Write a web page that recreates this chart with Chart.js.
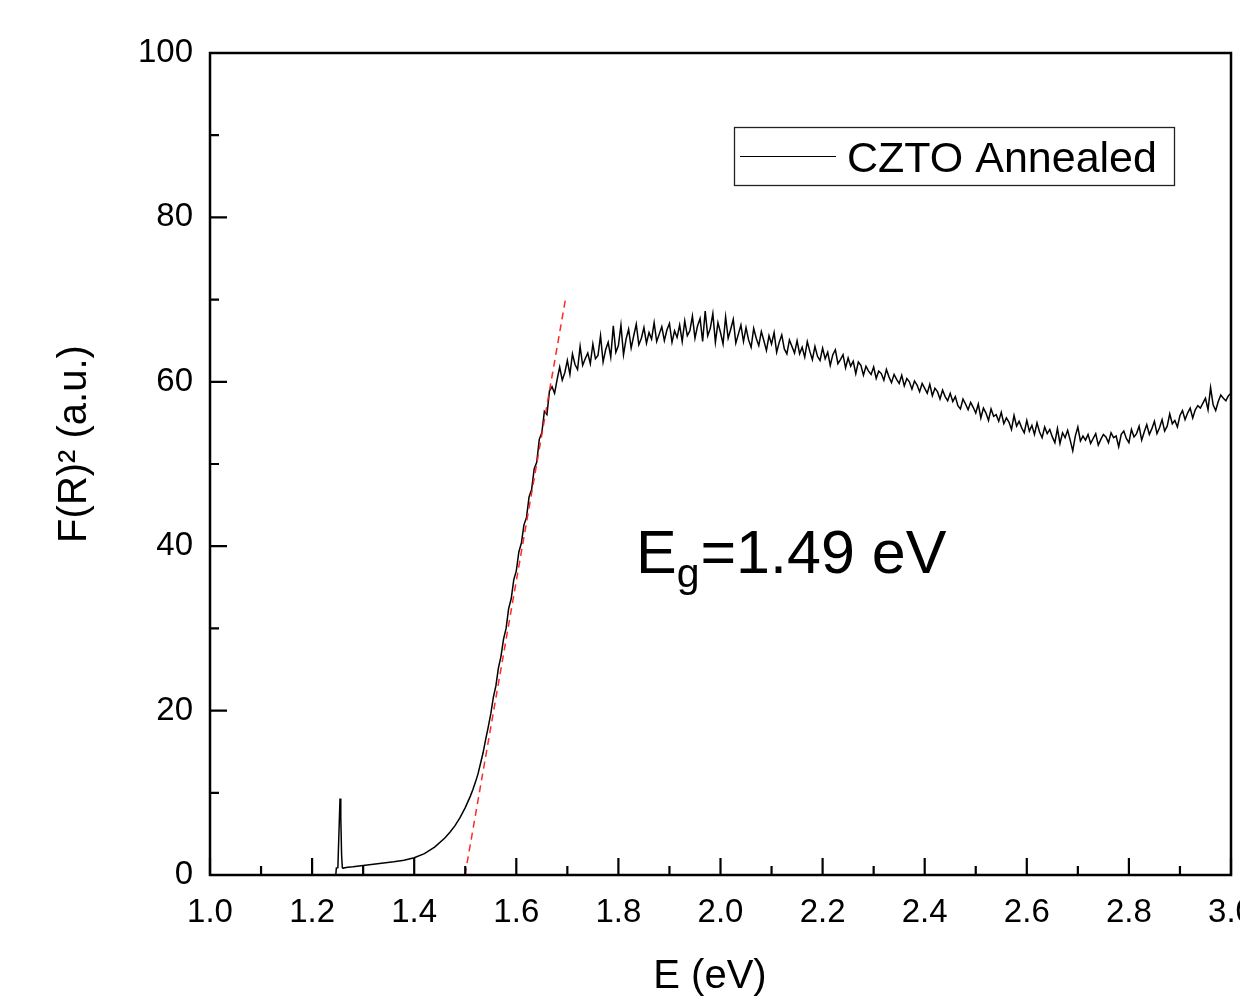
<!DOCTYPE html>
<html>
<head>
<meta charset="utf-8">
<script src="https://cdn.jsdelivr.net/npm/chart.js@4.4.1/dist/chart.umd.min.js"></script>
<style>
  html, body { margin: 0; padding: 0; background: #fff; overflow: hidden; }
  #wrap { width: 1300px; height: 1000px; }
</style>
</head>
<body>
<div id="wrap"><canvas id="chart" width="1300" height="1000"></canvas></div>
<script>
// F(R)^2 vs photon energy
const energy = [
  1.2465, 1.2475, 1.2505, 1.2525, 1.2547, 1.2562, 1.2578, 1.2592, 1.2605, 1.27,
  1.28, 1.30, 1.32, 1.34, 1.36, 1.38, 1.40, 1.42, 1.44, 1.46, 1.47, 1.48, 1.49,
  1.500, 1.505, 1.510, 1.515, 1.520, 1.525, 1.530, 1.535, 1.540, 1.545,
  1.550, 1.555, 1.560, 1.565, 1.570, 1.575, 1.580, 1.585, 1.590, 1.595,
  1.600, 1.605, 1.610, 1.615, 1.620, 1.625, 1.630, 1.635, 1.640, 1.645,
  1.650, 1.655, 1.660, 1.665, 1.670, 1.675, 1.680, 1.685, 1.690, 1.695,
  1.700, 1.705, 1.710, 1.715, 1.720, 1.725, 1.730, 1.735, 1.740, 1.745,
  1.750, 1.755, 1.760, 1.765, 1.770, 1.775, 1.780, 1.785, 1.790, 1.795,
  1.800, 1.805, 1.810, 1.815, 1.820, 1.825, 1.830, 1.835, 1.840, 1.845,
  1.850, 1.855, 1.860, 1.865, 1.870, 1.875, 1.880, 1.885, 1.890, 1.895,
  1.900, 1.905, 1.910, 1.915, 1.920, 1.925, 1.930, 1.935, 1.940, 1.945,
  1.950, 1.955, 1.960, 1.965, 1.970, 1.975, 1.980, 1.985, 1.990, 1.995,
  2.000, 2.005, 2.010, 2.015, 2.020, 2.025, 2.030, 2.035, 2.040, 2.045,
  2.050, 2.055, 2.060, 2.065, 2.070, 2.075, 2.080, 2.085, 2.090, 2.095,
  2.100, 2.105, 2.110, 2.115, 2.120, 2.125, 2.130, 2.135, 2.140, 2.145,
  2.150, 2.155, 2.160, 2.165, 2.170, 2.175, 2.180, 2.185, 2.190, 2.195,
  2.200, 2.205, 2.210, 2.215, 2.220, 2.225, 2.230, 2.235, 2.240, 2.245,
  2.250, 2.255, 2.260, 2.265, 2.270, 2.275, 2.280, 2.285, 2.290, 2.295,
  2.300, 2.305, 2.310, 2.315, 2.320, 2.325, 2.330, 2.335, 2.340, 2.345,
  2.350, 2.355, 2.360, 2.365, 2.370, 2.375, 2.380, 2.385, 2.390, 2.395,
  2.400, 2.405, 2.410, 2.415, 2.420, 2.425, 2.430, 2.435, 2.440, 2.445,
  2.450, 2.455, 2.460, 2.465, 2.470, 2.475, 2.480, 2.485, 2.490, 2.495,
  2.500, 2.505, 2.510, 2.515, 2.520, 2.525, 2.530, 2.535, 2.540, 2.545,
  2.550, 2.555, 2.560, 2.565, 2.570, 2.575, 2.580, 2.585, 2.590, 2.595,
  2.600, 2.605, 2.610, 2.615, 2.620, 2.625, 2.630, 2.635, 2.640, 2.645,
  2.650, 2.655, 2.660, 2.665, 2.670, 2.675, 2.680, 2.685, 2.690, 2.695,
  2.700, 2.705, 2.710, 2.715, 2.720, 2.725, 2.730, 2.735, 2.740, 2.745,
  2.750, 2.755, 2.760, 2.765, 2.770, 2.775, 2.780, 2.785, 2.790, 2.795,
  2.800, 2.805, 2.810, 2.815, 2.820, 2.825, 2.830, 2.835, 2.840, 2.845,
  2.850, 2.855, 2.860, 2.865, 2.870, 2.875, 2.880, 2.885, 2.890, 2.895,
  2.900, 2.905, 2.910, 2.915, 2.920, 2.925, 2.930, 2.935, 2.940, 2.945,
  2.950, 2.955, 2.960, 2.965, 2.970, 2.975, 2.980, 2.985, 2.990, 2.995,
  3.000, 3.010
];
const fr2 = [
  0.05, 0.85, 0.9, 5.0, 9.3, 7.0, 2.4, 0.9, 0.85, 0.95,
  1.0, 1.15, 1.3, 1.45, 1.6, 1.8, 2.1, 2.6, 3.4, 4.5, 5.2, 6.0, 7.0,
  8.2, 8.9, 9.6, 10.4, 11.3, 12.3, 13.6, 14.9, 16.5, 18.0,
  19.6, 21.6, 23.0, 25.2, 26.6, 28.7, 30.0, 32.4, 33.6, 35.9,
  37.0, 39.3, 40.4, 42.6, 43.5, 46.0, 46.9, 49.4, 50.2, 53.0,
  53.8, 56.4, 56.0, 58.9, 59.4, 58.6, 60.3, 61.8, 60.2, 61.1,
  62.6, 60.9, 63.4, 62.1, 61.5, 64.3, 62.0, 62.8, 63.5, 62.2,
  64.6, 62.8, 63.2, 65.6, 62.4, 63.9, 64.8, 63.0, 66.8, 63.6,
  64.4, 66.9, 63.3, 65.2, 66.4, 64.1, 65.6, 67.0, 64.5, 65.3,
  66.6, 64.7, 66.0, 65.2, 67.2, 64.9, 65.8, 66.7, 65.0, 66.3,
  67.1, 64.8, 66.2, 65.4, 66.9, 64.9, 67.4, 65.6, 66.2, 68.0,
  65.3, 66.8, 67.7, 64.9, 68.6, 65.6, 66.5, 68.3, 64.8, 67.2,
  66.0, 64.6, 67.9, 65.3, 66.4, 67.6, 64.7, 65.8, 66.9, 64.9,
  66.6, 65.1, 64.2, 66.5, 65.3, 64.4, 66.1, 65.0, 63.8, 65.6,
  64.6, 66.0, 63.6, 64.8, 65.7, 64.0, 63.4, 65.1, 64.3, 63.5,
  65.0, 63.4, 64.2, 63.0, 64.9, 63.7, 62.7, 64.3, 63.1, 62.6,
  64.1, 62.8, 63.6, 62.0, 63.3, 63.9, 62.2, 62.7, 63.3, 61.7,
  62.9, 61.9, 62.5, 61.0, 62.4, 62.0, 60.8, 61.9, 61.3, 60.9,
  61.8, 60.4, 61.3, 61.0, 60.2, 61.5, 60.6, 59.9, 60.9, 60.3,
  59.8, 60.8, 59.5, 60.4, 60.0, 59.1, 60.1, 59.6, 58.8, 59.8,
  59.2, 58.6, 59.7, 58.3, 59.2, 58.8, 57.9, 59.0, 58.2, 57.7,
  58.6, 57.6, 58.2, 57.1, 56.7, 57.9, 57.3, 56.6, 57.5, 56.9,
  56.2, 57.3, 55.6, 56.8, 56.2, 55.3, 56.7, 55.8, 56.0, 55.2,
  56.3, 54.9, 55.6, 55.1, 54.2, 55.9, 54.6, 55.2, 54.4, 53.8,
  55.3, 54.0, 54.7, 53.6, 55.0, 53.9, 53.2, 54.5, 53.7, 54.2,
  53.3, 52.6, 54.3, 52.5, 53.8, 53.2, 54.1, 52.9, 51.6, 53.4,
  54.5, 52.8, 53.4, 52.9, 53.6, 52.5, 53.1, 53.7, 52.3, 53.0,
  53.6, 53.3, 52.6, 53.8, 53.2, 53.4, 52.1, 53.6, 54.0, 53.1,
  52.6, 54.2, 53.3, 53.7, 54.6, 52.9, 53.9, 54.8, 53.6, 54.3,
  55.2, 53.7, 54.4, 55.4, 54.0, 54.6, 56.1, 54.9, 55.3, 54.5,
  55.9, 56.5, 55.4, 56.2, 56.8, 55.6, 56.6, 57.1, 56.8, 57.4,
  58.0, 56.6, 59.3, 57.2, 56.5, 57.6, 58.4, 58.0, 57.7, 58.3,
  58.6, 59.2
];

// linear fit of the absorption edge (Tauc extrapolation)
const fitE = [1.4995, 1.697];
const fitV = [0, 70.3];

const seriesLabel = 'CZTO Annealed';
const xTicks = [1.0, 1.2, 1.4, 1.6, 1.8, 2.0, 2.2, 2.4, 2.6, 2.8, 3.0];
const yTicks = [0, 20, 40, 60, 80, 100];

const FONT = "'Liberation Sans', Arial, Helvetica, sans-serif";

// frame, inward ticks, titles, legend and the Eg note
const decorations = {
  id: 'decorations',
  afterDraw(chart) {
    const ctx = chart.ctx;
    const a = chart.chartArea;
    const xs = chart.scales.x, ys = chart.scales.y;
    ctx.save();
    ctx.strokeStyle = '#000';
    ctx.lineWidth = 2.5;
    ctx.strokeRect(a.left, a.top, a.right - a.left, a.bottom - a.top);

    // ticks point into the plot
    ctx.lineWidth = 2.2;
    ctx.beginPath();
    xTicks.forEach((t, i) => {
      const px = xs.getPixelForValue(t);
      ctx.moveTo(px, a.bottom); ctx.lineTo(px, a.bottom - 17);
      if (i < xTicks.length - 1) {
        const mx = xs.getPixelForValue((t + xTicks[i + 1]) / 2);
        ctx.moveTo(mx, a.bottom); ctx.lineTo(mx, a.bottom - 9);
      }
    });
    yTicks.forEach((t, i) => {
      const py = ys.getPixelForValue(t);
      ctx.moveTo(a.left, py); ctx.lineTo(a.left + 17, py);
      if (i < yTicks.length - 1) {
        const my = ys.getPixelForValue((t + yTicks[i + 1]) / 2);
        ctx.moveTo(a.left, my); ctx.lineTo(a.left + 9, my);
      }
    });
    ctx.stroke();

    ctx.fillStyle = '#000';
    // x title
    ctx.font = '40px ' + FONT;
    ctx.textAlign = 'center';
    ctx.textBaseline = 'middle';
    ctx.fillText('E (eV)', 710, 977);
    // y title
    ctx.save();
    ctx.translate(75, 444);
    ctx.rotate(-Math.PI / 2);
    ctx.fillText('F(R)\u00B2 (a.u.)', 0, 0);
    ctx.restore();

    // legend
    ctx.lineWidth = 1.3;
    ctx.strokeStyle = '#222';
    ctx.strokeRect(734.5, 127.5, 440, 58);
    ctx.strokeStyle = '#000';
    ctx.lineWidth = 1.2;
    ctx.beginPath();
    ctx.moveTo(740, 156.5); ctx.lineTo(836, 156.5);
    ctx.stroke();
    ctx.font = '43px ' + FONT;
    ctx.textAlign = 'left';
    ctx.textBaseline = 'alphabetic';
    ctx.fillText(seriesLabel, 847, 172);

    // band gap note
    let x = 636;
    ctx.font = '61px ' + FONT;
    ctx.fillText('E', x, 573);
    x += ctx.measureText('E').width;
    ctx.font = '41px ' + FONT;
    ctx.fillText('g', x, 587);
    x += ctx.measureText('g').width + 1;
    ctx.font = '61px ' + FONT;
    ctx.fillText('=1.49 eV', x, 573);
    ctx.restore();
  }
};

const ctx = document.getElementById('chart').getContext('2d');
new Chart(ctx, {
  type: 'line',
  data: {
    datasets: [
      {
        label: 'fit',
        data: fitE.map((e, i) => ({ x: e, y: fitV[i] })),
        borderColor: 'rgba(255, 30, 30, 0.95)',
        borderWidth: 1.5,
        borderDash: [7, 5],
        pointRadius: 0,
        tension: 0
      },
      {
        label: seriesLabel,
        data: energy.map((e, i) => ({ x: e, y: fr2[i] })),
        borderColor: '#000',
        borderWidth: 1.5,
        pointRadius: 0,
        tension: 0
      }
    ]
  },
  options: {
    responsive: false,
    animation: false,
    devicePixelRatio: 1,
    layout: { padding: { top: 53, right: 69, left: 0, bottom: 0 } },
    plugins: { legend: { display: false }, tooltip: { enabled: false } },
    scales: {
      x: {
        type: 'linear',
        min: 1.0,
        max: 3.0,
        afterFit: s => { s.height = 125; },
        afterBuildTicks: s => { s.ticks = xTicks.map(v => ({ value: v })); },
        grid: { display: false, drawTicks: false },
        border: { display: false },
        ticks: {
          color: '#000',
          padding: 18,
          maxRotation: 0,
          autoSkip: false,
          font: { family: FONT, size: 33 },
          callback: v => Number(v).toFixed(1)
        }
      },
      y: {
        min: 0,
        max: 100,
        afterFit: s => { s.width = 210; },
        afterBuildTicks: s => { s.ticks = yTicks.map(v => ({ value: v })); },
        grid: { display: false, drawTicks: false },
        border: { display: false },
        ticks: {
          color: '#000',
          padding: 17,
          font: { family: FONT, size: 33 },
          callback: v => String(v)
        }
      }
    }
  },
  plugins: [decorations]
});
</script>
</body>
</html>
